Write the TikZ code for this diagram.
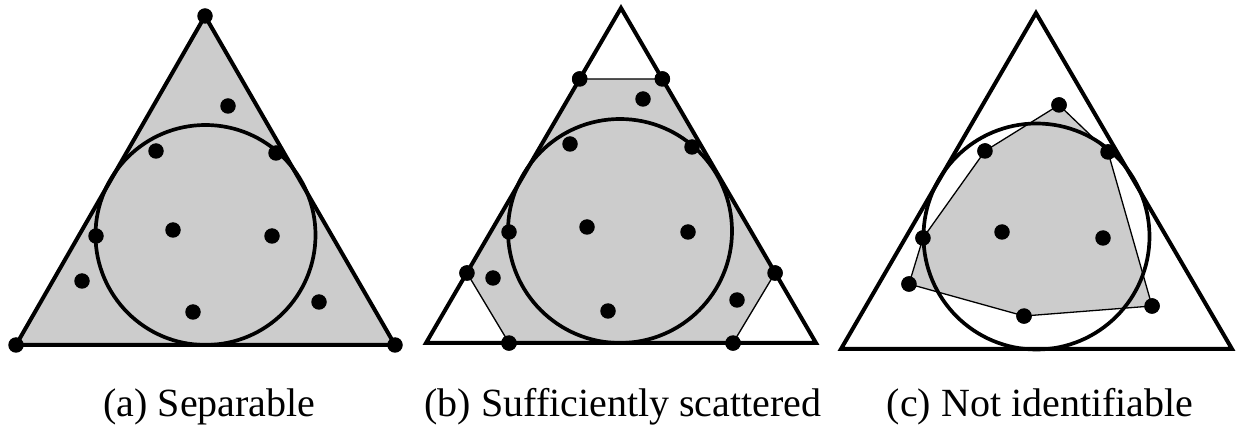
\documentclass[tikz,border=0pt]{standalone}
\usepackage{fontspec}
\setmainfont{Liberation Serif}
\definecolor{hullgray}{RGB}{204,204,204}
\begin{document}
\begin{tikzpicture}[x=1pt,y=-1pt,
  dot/.style={circle,fill=black,inner sep=0pt,minimum size=15.5pt},
  tri/.style={draw=black,line width=4pt,line join=miter},
  hull/.style={fill=hullgray,draw=black,line width=1.3pt,line join=round},
  incirc/.style={draw=black,line width=3.7pt},
  caption/.style={font=\fontsize{40}{48}\selectfont,anchor=base,inner sep=0pt}]
\fill[white] (0,0) rectangle (1243,430);
\useasboundingbox (0,0) rectangle (1243,430);

% ---------- (a) Separable ----------
\coordinate (aT) at (205,16);
\coordinate (aL) at (16,345);
\coordinate (aR) at (395,345);
\fill[hullgray] (aT) -- (aL) -- (aR) -- cycle;
\draw[incirc] (205.5,235) circle[radius=110];
\draw[tri] (aT) -- (aL) -- (aR) -- cycle;
\node[dot] (a1) at (aT) {};
\node[dot] (a2) at (aL) {};
\node[dot] (a3) at (aR) {};
\node[dot] (a4) at (228,106) {};
\node[dot] (a5) at (156,151) {};
\node[dot] (a6) at (276,153) {};
\node[dot] (a7) at (96,236) {};
\node[dot] (a8) at (173,230) {};
\node[dot] (a9) at (272,236) {};
\node[dot] (a10) at (82,281) {};
\node[dot] (a11) at (193,312) {};
\node[dot] (a12) at (319,302) {};
\node[caption] (capa) at (209.5,417) {(a) Separable};

% ---------- (b) Sufficiently scattered ----------
\coordinate (bT) at (621,8);
\coordinate (bL) at (426,343);
\coordinate (bR) at (816,343);
\node[dot] (b1) at (579.7,79) {};
\node[dot] (b2) at (662.3,79) {};
\node[dot] (b3) at (775,273) {};
\node[dot] (b4) at (733,343) {};
\node[dot] (b5) at (509,343) {};
\node[dot] (b6) at (467,273) {};
\path[hull] (b1.center) -- (b2.center) -- (b3.center) -- (b4.center) -- (b5.center) -- (b6.center) -- cycle;
\draw[incirc] (620,231) circle[radius=112];
\draw[tri] (bT) -- (bL) -- (bR) -- cycle;
\foreach \n in {b1,b2,b3,b4,b5,b6} \fill (\n) circle[radius=7.75pt];
\node[dot] (b7) at (643,99) {};
\node[dot] (b8) at (570,144) {};
\node[dot] (b9) at (692,147) {};
\node[dot] (b10) at (509,232) {};
\node[dot] (b11) at (587,227) {};
\node[dot] (b12) at (688,232) {};
\node[dot] (b13) at (493,278) {};
\node[dot] (b14) at (608,311) {};
\node[dot] (b15) at (737,300) {};
\node[caption] (capb) at (623,417) {(b) Sufficiently scattered};

% ---------- (c) Not identifiable ----------
\coordinate (cT) at (1036,13);
\coordinate (cL) at (841,349);
\coordinate (cR) at (1232,349);
\node[dot] (c1) at (1059,105) {};
\node[dot] (c2) at (1108,152) {};
\node[dot] (c3) at (1152,306) {};
\node[dot] (c4) at (1024,316) {};
\node[dot] (c5) at (909,284) {};
\node[dot] (c6) at (923,238) {};
\node[dot] (c7) at (985,151) {};
\path[hull] (c1.center) -- (c2.center) -- (c3.center) -- (c4.center) -- (c5.center) -- (c6.center) -- (c7.center) -- cycle;
\draw[incirc] (1036.5,236.5) circle[radius=113];
\draw[tri] (cT) -- (cL) -- (cR) -- cycle;
\foreach \n in {c1,c2,c3,c4,c5,c6,c7} \fill (\n) circle[radius=7.75pt];
\node[dot] (c8) at (1002,232) {};
\node[dot] (c9) at (1103,238) {};
\node[caption] (capc) at (1040,417) {(c) Not identifiable};
\end{tikzpicture}
\end{document}
